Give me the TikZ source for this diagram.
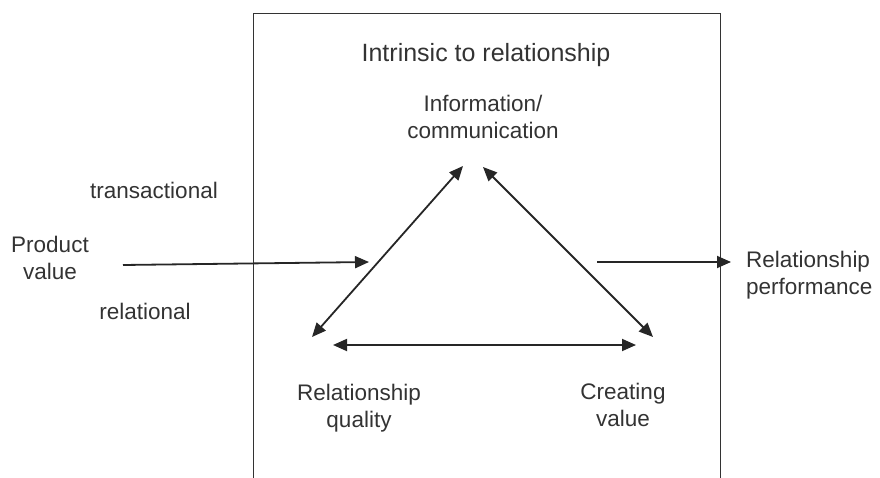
\documentclass[tikz,border=0pt]{standalone}
\usepackage{fontspec}
\setmainfont{Liberation Sans}
\usetikzlibrary{arrows.meta}

\begin{document}
\begin{tikzpicture}[x=1pt, y=-1pt,
        txt/.style = {inner sep=0pt, align=center, text=black!80, font=\fontsize{22.5}{27.5}\selectfont},
        frame/.style = {draw=black!80, line width=0.9pt},
        arrow/.style = {draw=black!85, line width=1.8pt, -{Triangle[length=14pt, width=12pt]}},
        twoway/.style = {arrow, {Triangle[length=14pt, width=12pt]}-{Triangle[length=14pt, width=12pt]}}
        ]
        \useasboundingbox (0,0) rectangle (880,478);

        % the box
        \draw[frame] (253,478) -- (253,13) -- (720,13) -- (720,478);

        % labels
        \node[txt, font=\fontsize{25}{30}\selectfont] (intrinsic) at (486,55) {Intrinsic to relationship};
        \node[txt] (info) at (483,117) {Information/\\communication};
        \node[txt] (quality) at (359,408) {Relationship\\quality};
        \node[txt] (creating) at (623,405) {Creating\\value};
        \node[txt] (trans) at (154,190) {transactional};
        \node[txt] (rel) at (145,311) {relational};
        \node[txt] (product) at (50,258) {Product\\value};
        \node[txt, anchor=west, align=left] (perf) at (746,275) {Relationship\\performance};

        % arrow ends
        \coordinate (infoL) at (463,166);
        \coordinate (infoR) at (483,167);
        \coordinate (qualT) at (312,337);
        \coordinate (creatT) at (653,337);
        \coordinate (qualR) at (333,345);
        \coordinate (creatL) at (636,345);
        \coordinate (prodE) at (123,265);
        \coordinate (prodTip) at (369,262);
        \coordinate (perfS) at (597,262);
        \coordinate (perfTip) at (731,262);

        % triangle
        \draw[twoway] (qualT) -- (infoL);
        \draw[twoway] (infoR) -- (creatT);
        \draw[twoway] (qualR) -- (creatL);

        % in and out
        \draw[arrow] (prodE) -- (prodTip);
        \draw[arrow] (perfS) -- (perfTip);
\end{tikzpicture}
\end{document}
